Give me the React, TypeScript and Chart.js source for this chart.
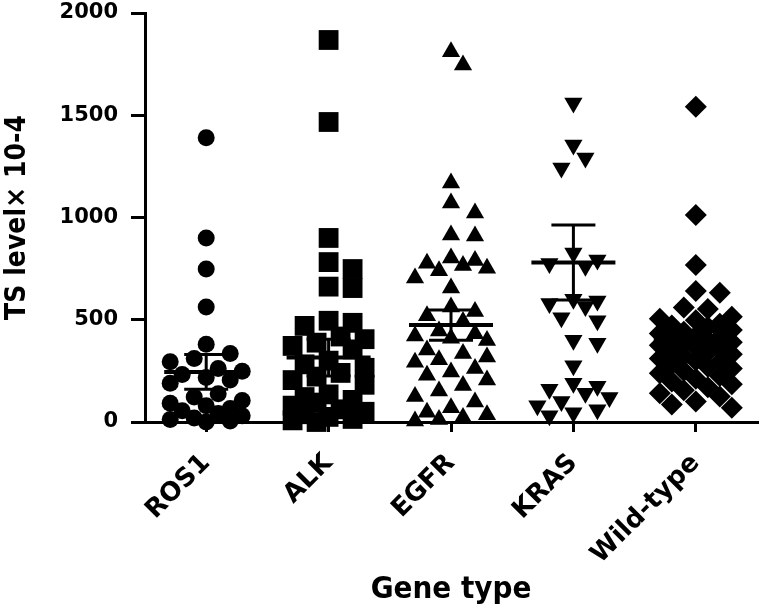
import { useEffect, useRef } from 'react';
import { Chart, registerables } from 'chart.js';

Chart.register(...registerables);

// categories and values
const geneTypes = ['ROS1', 'ALK', 'EGFR', 'KRAS', 'Wild-type'];

const ros1Values = [1390, 900, 748, 562, 380, 335, 310, 295, 262, 248, 232, 218, 205, 190, 138, 122, 105, 92, 80, 66, 55, 42, 30, 20, 12, 5, 0];
const alkValues = [1868, 1467, 900, 782, 748, 662, 655, 495, 485, 470, 418, 405, 388, 372, 355, 300, 282, 265, 240, 222, 205, 182, 135, 122, 108, 95, 80, 62, 50, 38, 25, 15, 8, 0];
const egfrValues = [1810, 1746, 1169, 1071, 1022, 914, 910, 802, 790, 776, 765, 752, 740, 704, 655, 562, 540, 520, 492, 445, 432, 420, 410, 398, 352, 335, 318, 305, 292, 262, 245, 228, 205, 178, 152, 125, 98, 70, 48, 35, 22, 12, 5];
const krasValues = [1560, 1355, 1291, 1242, 826, 792, 775, 762, 600, 592, 580, 565, 510, 495, 400, 385, 275, 190, 175, 160, 140, 120, 100, 80, 60, 45, 30];
const wildTypeValues = [1541, 1012, 768, 640, 632, 560, 552, 515, 505, 497, 480, 472, 465, 450, 441, 433, 420, 414, 405, 398, 390, 382, 375, 368, 356, 347, 340, 331, 322, 310, 301, 292, 283, 270, 262, 250, 238, 225, 212, 198, 185, 170, 155, 140, 125, 100, 85, 70];

// mean and SEM bars as drawn
const groupMeans = [245, 315, 474, 780, 401];
const groupSems = [85, 90, 74, 183, 42];

const yTicks = [0, 500, 1000, 1500, 2000];

const groups = [ros1Values, alkValues, egfrValues, krasValues, wildTypeValues];

// rough pixel sizes used only to spread the points side by side
const PX_PER_UNIT = 409 / 2000;
const PX_PER_CAT = 122.4;

function swarm(values: number[], index: number, markerPx: number) {
  const placed: { px: number; py: number }[] = [];
  const out: { x: number; y: number }[] = [];
  const slots = [0, 1, -1, 2, -2, 3, -3];
  const step = 12;
  [...values].sort((a, b) => b - a).forEach(v => {
    const py = v * PX_PER_UNIT;
    let best = 0;
    let bestDist = -1;
    for (const k of slots) {
      const px = k * step;
      let minD = Infinity;
      placed.forEach(p => {
        const d = Math.hypot(p.px - px, p.py - py);
        if (d < minD) minD = d;
      });
      if (minD >= markerPx) {
        best = k;
        bestDist = Infinity;
        break;
      }
      if (minD > bestDist) {
        bestDist = minD;
        best = k;
      }
    }
    placed.push({ px: best * step, py });
    out.push({ x: index + (best * step) / PX_PER_CAT, y: v });
  });
  return out;
}

const markerStyles = [
  { pointStyle: 'circle', radius: 8.5, rotation: 0, spacing: 17 },
  { pointStyle: 'rect', radius: 14, rotation: 0, spacing: 19 },
  { pointStyle: 'triangle', radius: 10.5, rotation: 0, spacing: 17 },
  { pointStyle: 'triangle', radius: 10.5, rotation: 180, spacing: 17 },
  { pointStyle: 'rectRot', radius: 11, rotation: 0, spacing: 19 },
];

const meanSemPlugin = {
  id: 'meanSem',
  afterDatasetsDraw(chart: any) {
    const { ctx, scales } = chart;
    const x = scales.x;
    const y = scales.y;
    ctx.save();
    ctx.strokeStyle = '#000';
    groupMeans.forEach((m, i) => {
      const cx = x.getPixelForValue(i);
      const top = y.getPixelForValue(m + groupSems[i]);
      const bot = y.getPixelForValue(m - groupSems[i]);
      const my = y.getPixelForValue(m);
      ctx.lineWidth = 3;
      ctx.beginPath();
      ctx.moveTo(cx, top);
      ctx.lineTo(cx, bot);
      ctx.moveTo(cx - 22, top);
      ctx.lineTo(cx + 22, top);
      ctx.moveTo(cx - 22, bot);
      ctx.lineTo(cx + 22, bot);
      ctx.stroke();
      ctx.lineWidth = 4;
      ctx.beginPath();
      ctx.moveTo(cx - 42, my);
      ctx.lineTo(cx + 42, my);
      ctx.stroke();
    });
    ctx.restore();
  },
};

const condensed = '"DejaVu Sans Condensed", "Liberation Sans Narrow", "DejaVu Sans", sans-serif';
const bold = '"DejaVu Sans", sans-serif';

const App = () => {
  const chartRef = useRef<HTMLCanvasElement | null>(null);
  const chartInstance = useRef<Chart | null>(null);

  useEffect(() => {
    document.body.style.margin = '0';
    if (!chartRef.current) return;

    if (chartInstance.current) {
      chartInstance.current.destroy();
    }

    chartInstance.current = new Chart(chartRef.current, {
      type: 'scatter',
      data: {
        datasets: groups.map((values, i) => ({
          label: geneTypes[i],
          data: swarm(values, i, markerStyles[i].spacing),
          pointStyle: markerStyles[i].pointStyle as any,
          pointRadius: markerStyles[i].radius,
          pointRotation: markerStyles[i].rotation,
          pointBackgroundColor: '#000',
          pointBorderColor: '#000',
          pointBorderWidth: 0,
          showLine: false,
          clip: false as any,
        })),
      },
      options: {
        animation: false,
        responsive: true,
        maintainAspectRatio: false,
        layout: { autoPadding: false, padding: { top: 13, right: 5, left: 0, bottom: 0 } },
        plugins: {
          legend: { display: false },
          tooltip: { enabled: false },
        },
        scales: {
          x: {
            type: 'linear',
            min: -0.5,
            max: 4.5,
            afterBuildTicks: (axis: any) => {
              axis.ticks = geneTypes.map((_, i) => ({ value: i }));
            },
            afterFit: (axis: any) => {
              axis.height = 187;
              axis.paddingLeft = 0;
              axis.paddingRight = 0;
            },
            ticks: {
              autoSkip: false,
              minRotation: 45,
              maxRotation: 45,
              color: '#000',
              padding: 16,
              font: { family: bold, size: 26, weight: 'bold' },
              callback: (value: any) => geneTypes[value] ?? '',
            },
            grid: {
              drawOnChartArea: false,
              drawTicks: true,
              tickLength: 10,
              color: '#000',
              lineWidth: 3,
            },
            border: { display: true, color: '#000', width: 3 },
            title: {
              display: true,
              text: 'Gene type',
              color: '#000',
              font: { family: condensed, size: 31, weight: 'bold' },
              padding: { top: 0, bottom: 0 },
            },
          },
          y: {
            type: 'linear',
            min: 0,
            max: 2000,
            afterBuildTicks: (axis: any) => {
              axis.ticks = yTicks.map(v => ({ value: v }));
            },
            afterFit: (axis: any) => {
              axis.width = 145;
              axis.paddingTop = 0;
              axis.paddingBottom = 0;
            },
            ticks: {
              color: '#000',
              padding: 13,
              font: { family: bold, size: 21, weight: 'bold' },
              callback: (value: any) => String(value),
            },
            grid: {
              drawOnChartArea: false,
              drawTicks: true,
              tickLength: 14,
              color: '#000',
              lineWidth: 3,
            },
            border: { display: true, color: '#000', width: 3 },
            title: {
              display: true,
              text: 'TS level× 10-4',
              color: '#000',
              font: { family: condensed, size: 28, weight: 'bold' },
              padding: { top: 1, bottom: 0 },
            },
          },
        },
      },
      plugins: [meanSemPlugin],
    });

    return () => {
      if (chartInstance.current) {
        chartInstance.current.destroy();
        chartInstance.current = null;
      }
    };
  }, []);

  return (
    <div style={{ width: 762, height: 609, position: 'relative', background: '#fff' }}>
      <canvas ref={chartRef}></canvas>
    </div>
  );
};

export default App;
